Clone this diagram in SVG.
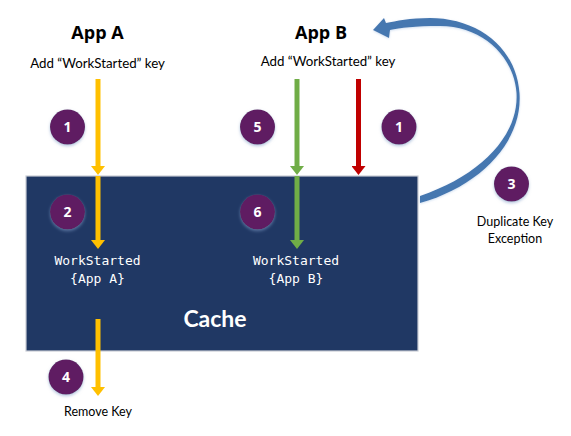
<svg xmlns="http://www.w3.org/2000/svg" width="571" height="436" viewBox="0 0 571 436">
<style>
.lbl{font-family:Lato,"Liberation Sans",sans-serif;font-size:12.5px;fill:#000;text-anchor:middle}
.add{font-size:13.3px}
.title{font-family:"Open Sans","Liberation Sans",sans-serif;font-size:18px;font-weight:bold;fill:#000;text-anchor:middle}
.mono{font-family:"DejaVu Sans Mono","Liberation Mono",monospace;font-size:13px;fill:#fff;text-anchor:middle}
.num{font-family:"Open Sans","Liberation Sans",sans-serif;font-size:14px;font-weight:bold;fill:#fff;text-anchor:middle}
.badge{fill:#5f1f62;filter:url(#sh)}
.y{stroke:#ffc000;stroke-width:5;fill:none;marker-end:url(#hy)}
.g{stroke:#70ad47;stroke-width:5;fill:none;marker-end:url(#hg)}
.r{stroke:#c00000;stroke-width:5;fill:none;marker-end:url(#hr)}
</style>
<defs>
<filter id="sh" x="-30%" y="-30%" width="160%" height="170%">
<feDropShadow dx="0" dy="1.5" stdDeviation="1.5" flood-color="#7f9cc8" flood-opacity="0.6"/>
</filter>
<filter id="gl" x="-10%" y="-10%" width="120%" height="120%">
<feDropShadow dx="0" dy="0.8" stdDeviation="0.8" flood-color="#a9c4e4" flood-opacity="0.6"/>
</filter>
<marker id="hy" viewBox="0 0 9 14" markerWidth="9" markerHeight="14" refX="0" refY="7" orient="auto" markerUnits="userSpaceOnUse"><path d="M0,0 L9,7 L0,14 Z" fill="#ffc000"/></marker>
<marker id="hg" viewBox="0 0 9 14" markerWidth="9" markerHeight="14" refX="0" refY="7" orient="auto" markerUnits="userSpaceOnUse"><path d="M0,0 L9,7 L0,14 Z" fill="#70ad47"/></marker>
<marker id="hr" viewBox="0 0 9 14" markerWidth="9" markerHeight="14" refX="0" refY="7" orient="auto" markerUnits="userSpaceOnUse"><path d="M0,0 L9,7 L0,14 Z" fill="#c00000"/></marker>
</defs>
<rect width="571" height="436" fill="#fff"/>

<g id="cache">
<rect x="26" y="176" width="392" height="175" fill="#203864" stroke="#c8ccd4" stroke-width="1.2"/>
<text x="215" y="327" font-family="Lato,'Open Sans','Liberation Sans',sans-serif" font-size="23" font-weight="bold" fill="#fff" text-anchor="middle">Cache</text>
</g>

<g id="appA">
<text class="title" x="97.5" y="39">App A</text>
<text class="lbl add" x="97.5" y="68">Add “WorkStarted” key</text>
</g>
<g id="appB">
<text class="title" x="321" y="39">App B</text>
<text class="lbl add" x="328" y="66">Add “WorkStarted” key</text>
</g>

<g id="keyA">
<text class="mono" x="97.5" y="265">WorkStarted</text>
<text class="mono" x="97.5" y="283">{App A}</text>
</g>
<g id="keyB">
<text class="mono" x="296" y="265">WorkStarted</text>
<text class="mono" x="296" y="283">{App B}</text>
</g>

<g id="exception">
<text class="lbl" x="515" y="226">Duplicate Key</text>
<text class="lbl" x="515" y="243">Exception</text>
</g>
<g id="remove">
<text class="lbl" x="98" y="416">Remove Key</text>
</g>

<g id="connectors">
<line class="y" x1="98" y1="79" x2="98" y2="166"/>
<line class="y" x1="98" y1="176" x2="98" y2="240"/>
<line class="y" x1="98" y1="319" x2="98" y2="387"/>
<line class="g" x1="297" y1="79" x2="297" y2="166"/>
<line class="g" x1="297" y1="176" x2="297" y2="240"/>
<line class="r" x1="358.5" y1="79" x2="358.5" y2="166"/>
<path d="M420,203 C480,186 523,142 519.5,93 C516,45 475,18 430,18 C410,18 396,21 386,23 L384,18 L373,30 L389,38 L390,30 C400,28 415,26 440,26 C482,26 514,56 516.5,93 C519,136 480,176 420,196 Z" fill="#4577b0" filter="url(#gl)"/>
</g>

<g id="b1a"><circle class="badge" cx="67.5" cy="127" r="17.5"/><text class="num" x="67.5" y="132">1</text></g>
<g id="b5"><circle class="badge" cx="257.5" cy="127" r="17.5"/><text class="num" x="257.5" y="132">5</text></g>
<g id="b1b"><circle class="badge" cx="399" cy="127" r="17.5"/><text class="num" x="399" y="132">1</text></g>
<g id="b2"><circle class="badge" cx="67.5" cy="212" r="17.5"/><text class="num" x="67.5" y="217">2</text></g>
<g id="b6"><circle class="badge" cx="257.5" cy="212" r="17.5"/><text class="num" x="257.5" y="217">6</text></g>
<g id="b3"><circle class="badge" cx="511.5" cy="184" r="17.5"/><text class="num" x="511.5" y="189">3</text></g>
<g id="b4"><circle class="badge" cx="66" cy="377" r="17.5"/><text class="num" x="66" y="382">4</text></g>
</svg>
